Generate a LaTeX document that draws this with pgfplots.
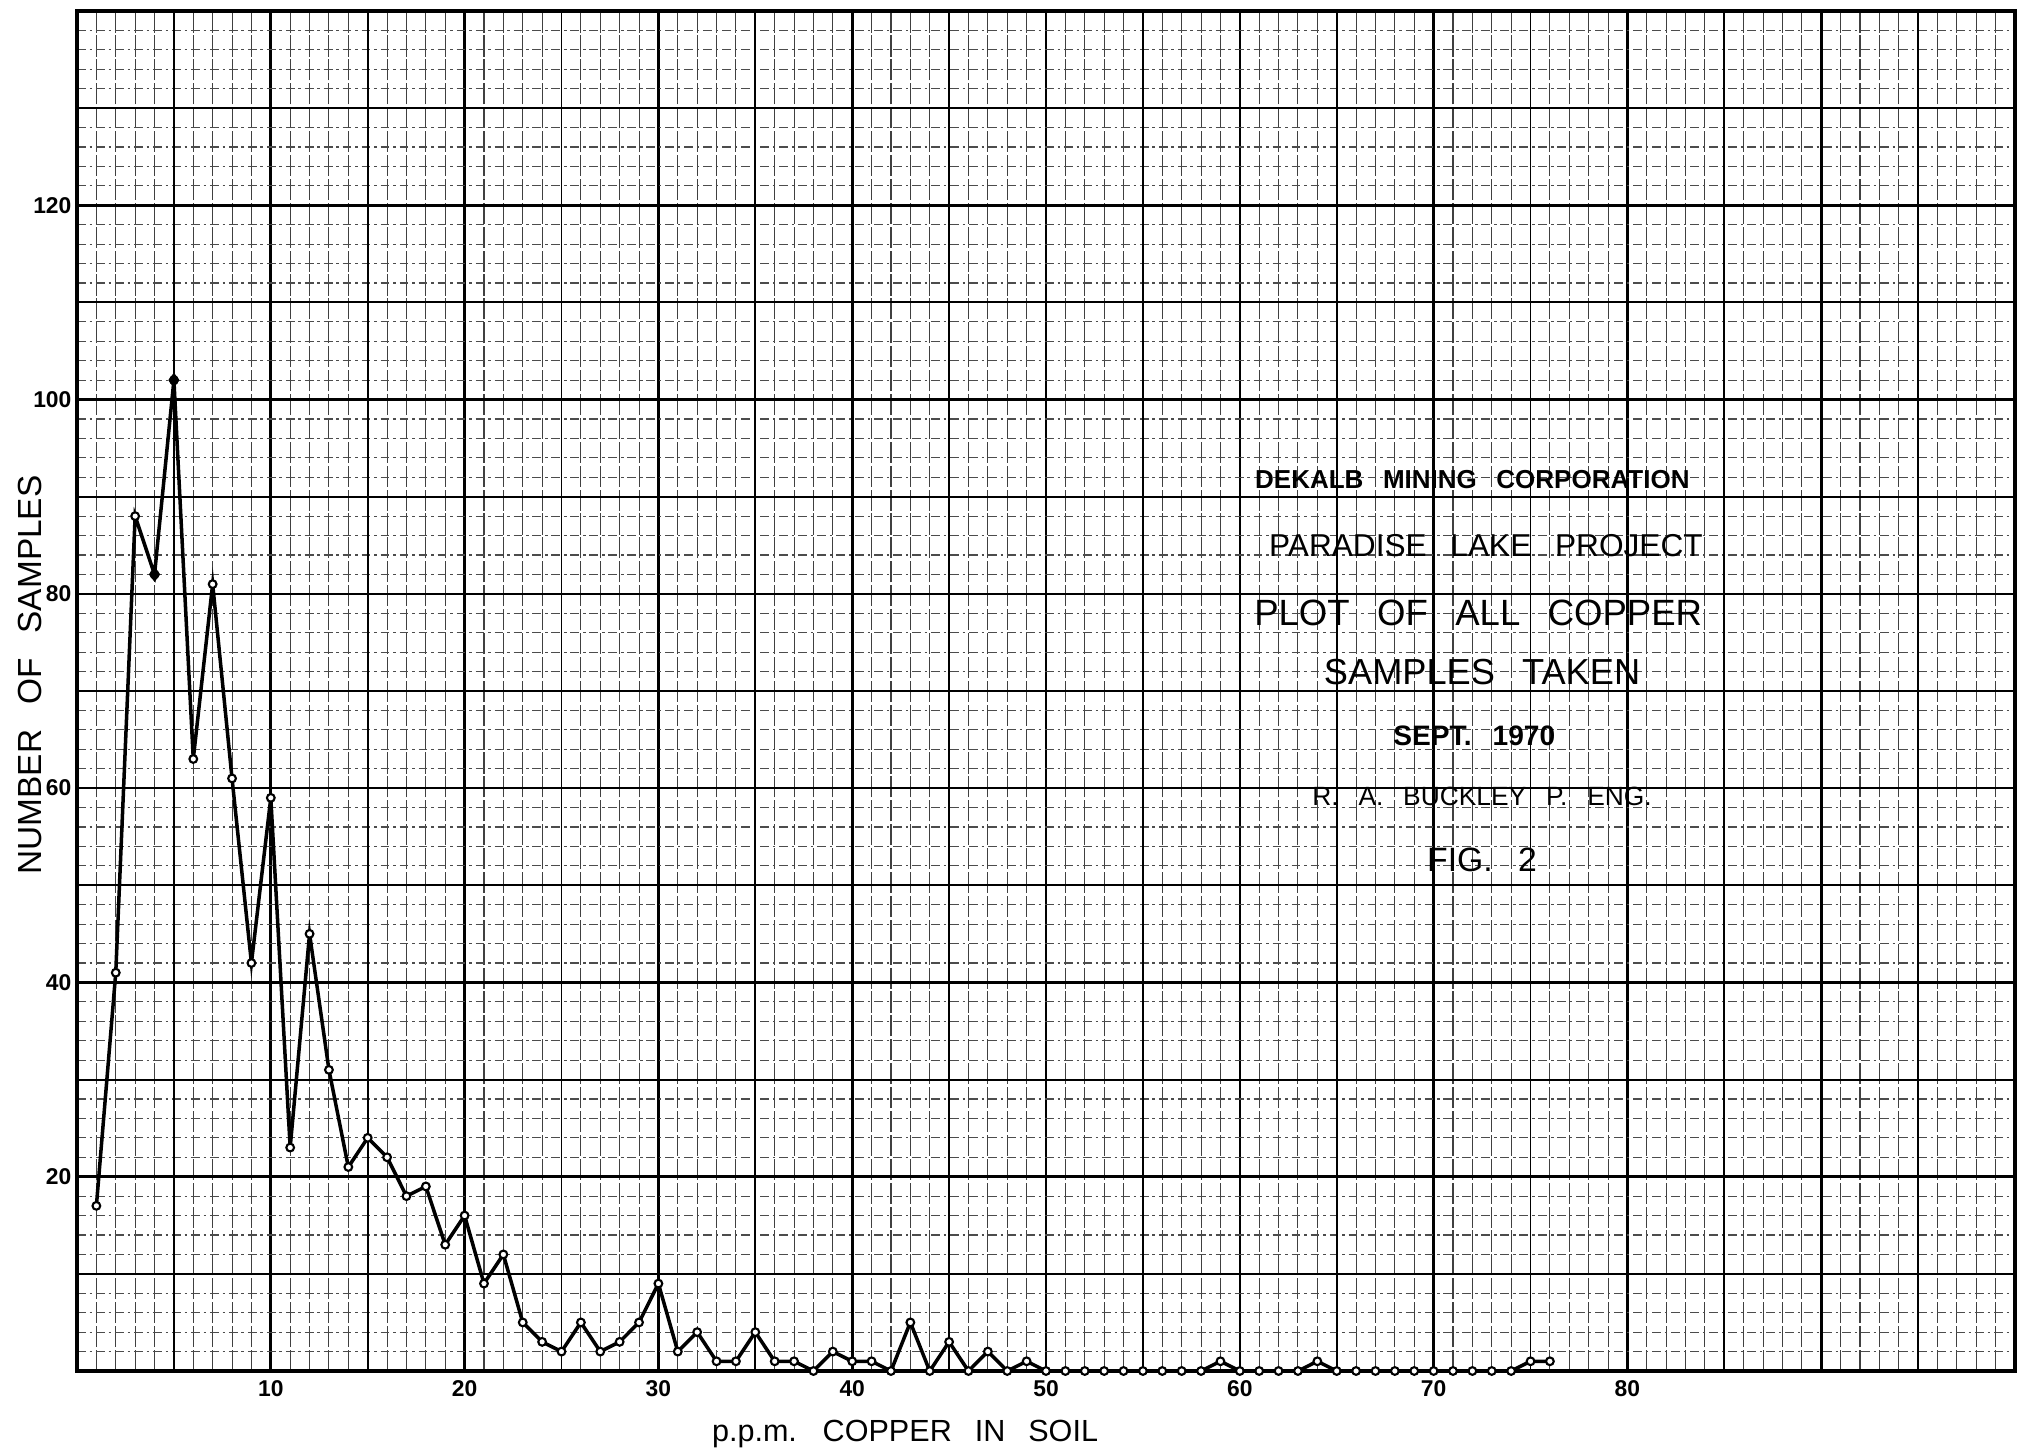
\documentclass[border=0pt]{standalone}
\usepackage{fontspec}
\setmainfont{Liberation Sans}
\newfontfamily\wide{Liberation Sans}[WordSpace=2.2]
\newfontfamily\wider{Liberation Sans}[WordSpace=2.7]
\usepackage{pgfplots}
\pgfplotsset{compat=1.18}
\begin{document}
\begin{tikzpicture}
\begin{axis}[
  at={(0,0)}, anchor=south west,
  scale only axis, width=19.38cm, height=13.6cm,
  xmin=0, xmax=100, ymin=0, ymax=140,
  xtick={0,10,...,100}, ytick={0,20,...,140},
  xticklabels={{},10,20,30,40,50,60,70,80,{},{}},
  yticklabels={{},20,40,60,80,100,120,{}},
  minor xtick={1,2,...,99}, minor ytick={2,4,...,138},
  grid=both,
  major grid style={black, line width=0.75pt},
  minor x grid style={black!75, line width=0.3pt, dash pattern=on 6pt off 0.8pt},
  minor y grid style={black!70, line width=0.3pt, dash pattern=on 2.5pt off 1.1pt on 0.7pt off 1.1pt},
  major tick length=0pt, minor tick length=0pt,
  axis line style={line width=1pt},
  tick label style={font=\fontsize{6.5}{7}\selectfont\bfseries},
  yticklabel style={inner sep=1.4pt},
  xticklabel style={inner sep=2.5pt},
  clip=false,
]
\pgfplotsinvokeforeach{5,15,...,95}{\draw[black, line width=0.55pt] (axis cs:#1,0) -- (axis cs:#1,140);}
\pgfplotsinvokeforeach{10,30,...,130}{\draw[black, line width=0.55pt] (axis cs:0,#1) -- (axis cs:100,#1);}
\addplot[black, line width=1pt, mark=*, mark size=1.1pt, mark options={fill=white, draw=black, line width=0.6pt}] coordinates {
(1,17) (2,41) (3,88) (4,82) (5,102) (6,63) (7,81) (8,61) (9,42) (10,59)
(11,23) (12,45) (13,31) (14,21) (15,24) (16,22) (17,18) (18,19) (19,13) (20,16)
(21,9) (22,12) (23,5) (24,3) (25,2) (26,5) (27,2) (28,3) (29,5) (30,9)
(31,2) (32,4) (33,1) (34,1) (35,4) (36,1) (37,1) (38,0) (39,2) (40,1)
(41,1) (42,0) (43,5) (44,0) (45,3) (46,0) (47,2) (48,0) (49,1) (50,0)
(51,0) (52,0) (53,0) (54,0) (55,0) (56,0) (57,0) (58,0) (59,1) (60,0)
(61,0) (62,0) (63,0) (64,1) (65,0) (66,0) (67,0) (68,0) (69,0) (70,0)
(71,0) (72,0) (73,0) (74,0) (75,1) (76,1)
};
\addplot[only marks, mark=diamond*, mark size=1.8pt, black] coordinates {(4,82) (5,102)};
\node[font=\wider\fontsize{7.4}{8}\selectfont\bfseries] at (axis cs:72.0,91.8) {DEKALB MINING CORPORATION};
\node[font=\wide\fontsize{9}{10}\selectfont] at (axis cs:72.7,85.0) {PARADISE LAKE PROJECT};
\node[font=\wide\fontsize{10.4}{12}\selectfont] at (axis cs:72.3,78.0) {PLOT OF ALL COPPER};
\node[font=\wide\fontsize{10.3}{12}\selectfont] at (axis cs:72.5,71.9) {SAMPLES TAKEN};
\node[font=\wide\fontsize{8}{9}\selectfont\bfseries] at (axis cs:72.1,65.4) {SEPT. 1970};
\node[font=\wide\fontsize{7.5}{8}\selectfont] at (axis cs:72.5,59.1) {R. A. BUCKLEY P. ENG.};
\node[font=\wide\fontsize{9.6}{11}\selectfont] at (axis cs:72.5,52.6) {FIG. 2};
\end{axis}
\node[rotate=90, anchor=base, font=\wide\fontsize{9.5}{11}\selectfont] at (-0.35cm,6.96cm) {NUMBER OF SAMPLES};
\node[anchor=base, font=\wide\fontsize{8.7}{10}\selectfont] at (8.28cm,-0.70cm) {p.p.m. COPPER IN SOIL};
\pgfresetboundingbox
\path[use as bounding box] (-0.77cm,-0.84cm) rectangle (19.41cm,13.71cm);
\end{tikzpicture}
\end{document}
